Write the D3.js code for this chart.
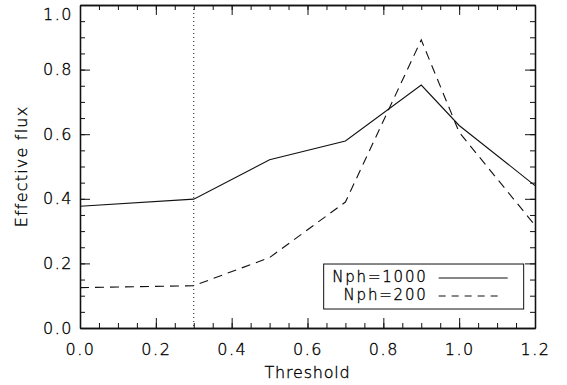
<!DOCTYPE html>
<html>
<head>
<meta charset="utf-8">
<script src="https://cdn.jsdelivr.net/npm/d3@7"></script>
<style>
	body { margin: 0; background: #fff; }
	text { font-family: "DejaVu Sans", "Liberation Sans", sans-serif; font-weight: 200; fill: #000; stroke: #000; stroke-width: 0.35px; }
	.axis path, .axis line { stroke: #111; }
</style>
</head>
<body>
<div id="figure"></div>
<script>
var w = 567;
var h = 385;
var margin = {
	top: 5,
	right: 32,
	bottom: 57,
	left: 80
};
var chartWidth = w - margin.left - margin.right;
var chartHeight = h - margin.top - margin.bottom;

// data
var thresholds = [0.0, 0.3, 0.5, 0.7, 0.9, 1.0, 1.2];
var nph1000 = [0.377, 0.399, 0.521, 0.579, 0.752, 0.627, 0.441];
var nph200 = [0.125, 0.131, 0.218, 0.390, 0.892, 0.606, 0.318];
var seriesNames = ["Nph=1000", "Nph=200"];
var xTicks = [0.0, 0.2, 0.4, 0.6, 0.8, 1.0, 1.2];
var yTicks = [0.0, 0.2, 0.4, 0.6, 0.8, 1.0];
var markerX = 0.3;

var svg = d3.select('#figure')
	.append('svg')
	.attr('width', w)
	.attr('height', h);

var chart = svg.append('g')
	.attr('transform', 'translate(' + margin.left + ',' + margin.top + ')');

var xScale = d3.scaleLinear()
	.domain([0, 1.2])
	.range([0, chartWidth]);

var yScale = d3.scaleLinear()
	.domain([0, 1.0])
	.range([chartHeight, 0]);

var xMinor = d3.range(0, 1.2001, 0.05);
var yMinor = d3.range(0, 1.0001, 0.05);
var fmt = d3.format('.1f');

//Minor ticks on all four sides
chart.append('g').classed('axis', true)
	.attr('transform', 'translate(0,' + chartHeight + ')')
	.call(d3.axisBottom(xScale).tickValues(xMinor).tickSize(-5).tickSizeOuter(0).tickFormat(''));
chart.append('g').classed('axis', true)
	.call(d3.axisTop(xScale).tickValues(xMinor).tickSize(-5).tickSizeOuter(0).tickFormat(''));
chart.append('g').classed('axis', true)
	.call(d3.axisLeft(yScale).tickValues(yMinor).tickSize(-5).tickSizeOuter(0).tickFormat(''));
chart.append('g').classed('axis', true)
	.attr('transform', 'translate(' + chartWidth + ',0)')
	.call(d3.axisRight(yScale).tickValues(yMinor).tickSize(-5).tickSizeOuter(0).tickFormat(''));

//Major ticks with labels
var xAxis = chart.append('g').classed('axis', true)
	.attr('transform', 'translate(0,' + chartHeight + ')')
	.call(d3.axisBottom(xScale).tickValues(xTicks).tickSize(-10).tickSizeOuter(0).tickPadding(16).tickFormat(fmt));
xAxis.selectAll('text').attr('font-size', 16).attr('letter-spacing', 1.5);
chart.append('g').classed('axis', true)
	.call(d3.axisTop(xScale).tickValues(xTicks).tickSize(-10).tickSizeOuter(0).tickFormat(''));

var yAxis = chart.append('g').classed('axis', true)
	.call(d3.axisLeft(yScale).tickValues(yTicks).tickSize(-10).tickSizeOuter(0).tickPadding(7).tickFormat(fmt));
yAxis.selectAll('text').attr('font-size', 16).attr('letter-spacing', 1.5)
	.attr('dy', function(d){ return d === 1.0 ? '0.9em' : '0.32em'; });
chart.append('g').classed('axis', true)
	.attr('transform', 'translate(' + chartWidth + ',0)')
	.call(d3.axisRight(yScale).tickValues(yTicks).tickSize(-10).tickSizeOuter(0).tickFormat(''));

chart.selectAll('.axis line').attr('stroke-width', 1);
chart.selectAll('.axis path').attr('stroke-width', 1.3);

//Axis labels
chart.append('text')
	.attr('x', chartWidth / 2)
	.attr('y', chartHeight + 50)
	.attr('text-anchor', 'middle')
	.attr('font-size', 16)
	.attr('letter-spacing', 0.8)
	.text('Threshold');

chart.append('text')
	.attr('transform', 'rotate(-90)')
	.attr('x', -chartHeight / 2)
	.attr('y', -53)
	.attr('text-anchor', 'middle')
	.attr('font-size', 16)
	.attr('letter-spacing', 1.2)
	.text('Effective flux');

//Vertical dotted line
chart.append('line')
	.attr('x1', xScale(markerX))
	.attr('x2', xScale(markerX))
	.attr('y1', 0)
	.attr('y2', chartHeight)
	.attr('stroke', '#111')
	.attr('stroke-width', 1)
	.attr('stroke-dasharray', '1,3');

//Lines
var line = d3.line()
	.x(function(d){ return xScale(d[0]); })
	.y(function(d){ return yScale(d[1]); });

var series = [
	{ name: seriesNames[0], values: d3.zip(thresholds, nph1000), dash: null },
	{ name: seriesNames[1], values: d3.zip(thresholds, nph200), dash: '9,6' }
];

chart.selectAll('path.series')
	.data(series)
	.enter()
	.append('path')
	.classed('series', true)
	.attr('d', function(d){ return line(d.values); })
	.attr('fill', 'none')
	.attr('stroke', '#111')
	.attr('stroke-width', 1.1)
	.attr('stroke-dasharray', function(d){ return d.dash; });

//Legend
var legend = chart.append('g')
	.attr('transform', 'translate(' + (xScale(0.64) + 1) + ',' + (yScale(0.195) - 1) + ')');

legend.append('rect')
	.attr('width', 200)
	.attr('height', 45)
	.attr('fill', '#fff')
	.attr('stroke', '#111')
	.attr('stroke-width', 1);

var rows = legend.selectAll('g.row')
	.data(series)
	.enter()
	.append('g')
	.attr('transform', function(d, i){ return 'translate(0,' + (14 + i * 18) + ')'; });

rows.append('text')
	.attr('x', 104)
	.attr('y', 3.5)
	.attr('text-anchor', 'end')
	.attr('font-size', 15)
	.attr('letter-spacing', 1.8)
	.text(function(d){ return d.name; });

rows.append('line')
	.attr('x1', 115)
	.attr('x2', function(d){ return d.dash ? 177 : 184; })
	.attr('y1', 0)
	.attr('y2', 0)
	.attr('stroke', '#111')
	.attr('stroke-width', 1.1)
	.attr('stroke-dasharray', function(d){ return d.dash ? '7,6' : null; });
</script>
</body>
</html>
